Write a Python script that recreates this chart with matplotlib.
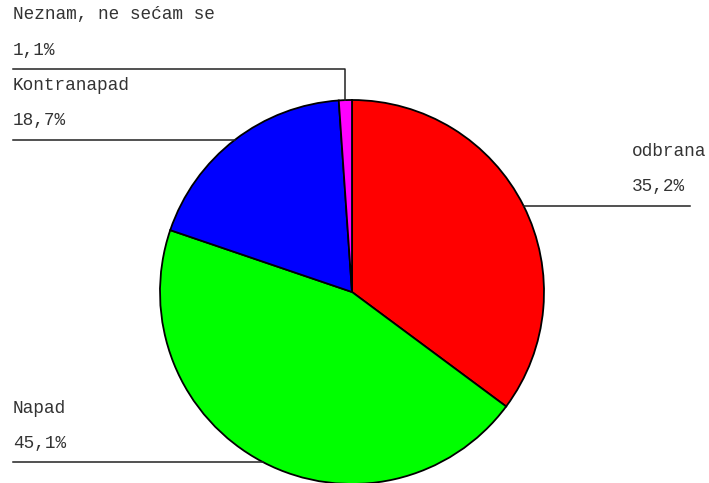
import matplotlib.pyplot as plt
import numpy as np

# vote shares, clockwise from the top
labels = ['odbrana', 'Napad', 'Kontranapad', 'Neznam, ne sećam se']
shares = [35.2, 45.1, 18.7, 1.1]
pct_text = ['35,2%', '45,1%', '18,7%', '1,1%']
colors = ['#ff0000', '#00ff00', '#0000ff', '#ff00ff']

W, H = 709, 483
fig = plt.figure(figsize=(W / 100, H / 100), dpi=100)
ax = fig.add_axes([0, 0, 1, 1])

cx, cy, r = 352, H - 292, 192
wedges, _ = ax.pie(shares, colors=colors, startangle=90, counterclock=False,
                   center=(cx, cy), radius=r,
                   wedgeprops=dict(edgecolor='black', linewidth=1.3))
ax.set_xlim(0, W)
ax.set_ylim(0, H)
ax.set_aspect('equal')
ax.axis('off')

font = dict(family='Liberation Mono', fontsize=12.8, color='#333333')
line_kw = dict(color='#222222', linewidth=1.1)


def mid_point(w):
    a = np.deg2rad((w.theta1 + w.theta2) / 2)
    return cx + r * np.cos(a), cy + r * np.sin(a)


for w, lab, pct in zip(wedges, labels, pct_text):
    mx, my = mid_point(w)
    if lab == 'odbrana':
        ly = my
        ax.plot([mx, 690], [ly, ly], **line_kw)
        tx = 632
    elif lab.startswith('Neznam'):
        ly = H - 69
        ax.plot([13, mx, mx], [ly, ly, my], **line_kw)
        tx = 13
    else:
        ly = my
        ax.plot([13, mx], [ly, ly], **line_kw)
        tx = 13
    ax.text(tx, ly + 54, lab, ha='left', va='center', **font)
    ax.text(tx, ly + 19, pct, ha='left', va='center', **font)

fig.savefig('out.png', dpi=100)
